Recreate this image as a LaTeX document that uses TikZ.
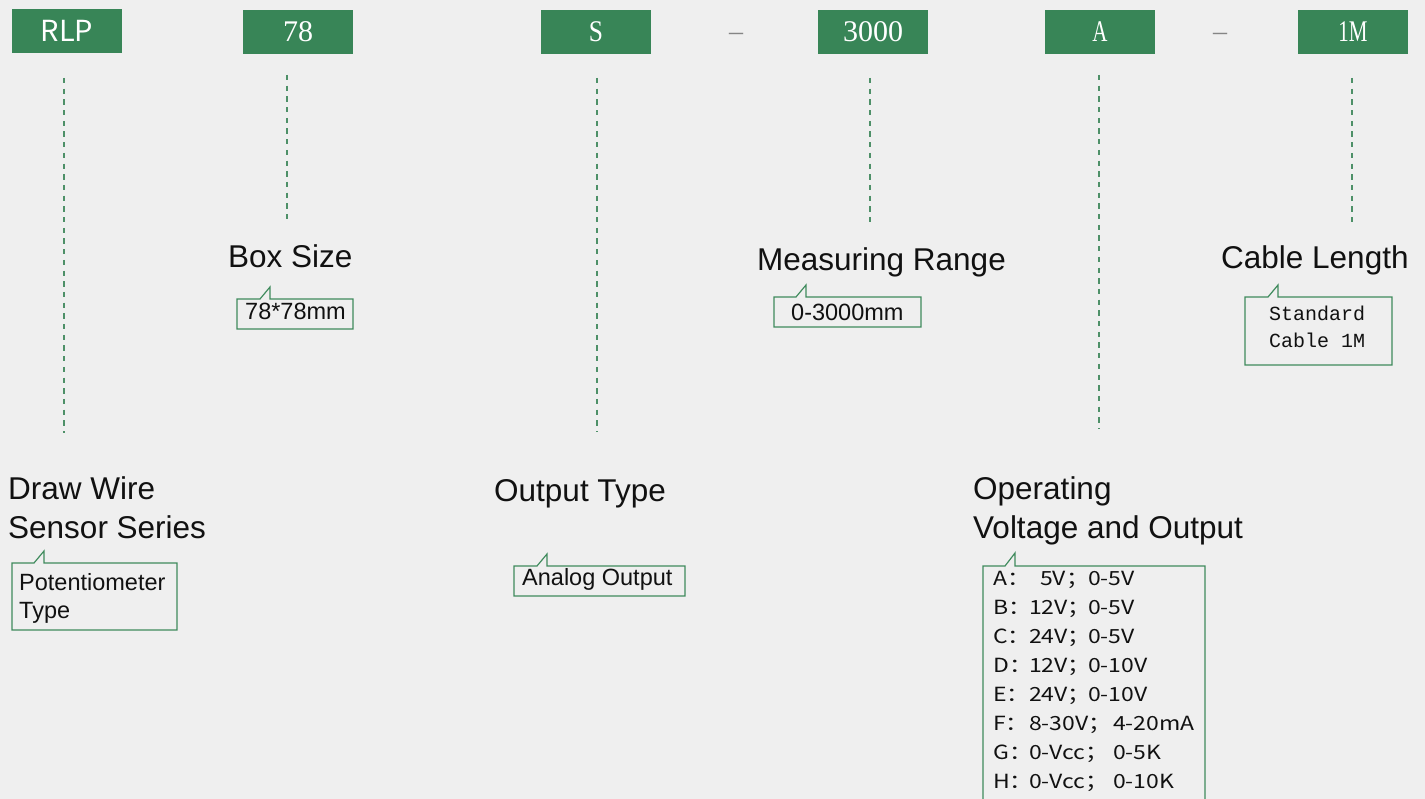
\documentclass[tikz,border=0pt]{standalone}
\usepackage{fontspec}
\usepackage{graphicx}
\setmainfont{Liberation Sans}
\newfontfamily\serifF{Liberation Serif}
\newfontfamily\monoF{Liberation Mono}
\newfontfamily\cjk{Noto Sans CJK SC}
\newfontfamily\cjkwide[FakeStretch=1.18]{Noto Sans CJK SC}
\definecolor{bg}{HTML}{EFEFEF}
\definecolor{boxgreen}{HTML}{388557}
\definecolor{linegreen}{HTML}{4E9068}
\definecolor{callgreen}{HTML}{3F8B5D}
\definecolor{dashgray}{HTML}{858585}
\definecolor{txt}{HTML}{111111}
\tikzset{
  codebox/.style={fill=boxgreen, text=white, minimum width=110pt, minimum height=44pt, inner sep=0pt},
  dashline/.style={draw=linegreen, line width=1.3pt, dash pattern=on 5.3pt off 5.4pt},
  callout/.style={draw=callgreen, line width=1.2pt},
  title/.style={anchor=base west, inner sep=0pt, text=txt, font=\fontsize{31.5}{39}\selectfont, align=left},
  calltext/.style={anchor=base west, inner sep=0pt, text=txt, font=\fontsize{23.5}{28}\selectfont, align=left},
  listtext/.style={anchor=base west, inner sep=0pt, text=txt, font=\cjkwide\fontsize{19.5}{29}\selectfont},
  sep/.style={text=dashgray, inner sep=0pt, font=\serifF\fontsize{28}{28}\selectfont}
}
\newcommand\mycallout[5]{\draw[callout] (#1,#2) -- ({#5-10},#2) -- (#5,{#2-12}) -- (#5,#2) -- (#3,#2) -- (#3,#4) -- (#1,#4) -- cycle;}
\begin{document}
\begin{tikzpicture}[x=1pt,y=-1pt]
\fill[bg] (0,0) rectangle (1425,799);
\useasboundingbox (0,0) rectangle (1425,799);

% top code boxes
\node[codebox, font=\cjk\fontsize{29}{29}\selectfont] (rlp) at (67,31) {RLP};
\node[codebox, font=\serifF\fontsize{30}{30}\selectfont] (size) at (298,32) {78};
\node[codebox, font=\serifF\fontsize{30}{30}\selectfont] (out) at (596,32) {\scalebox{0.85}[1]{S}};
\node[codebox, font=\serifF\fontsize{30}{30}\selectfont] (range) at (873,32) {3000};
\node[codebox, font=\serifF\fontsize{30}{30}\selectfont] (volt) at (1100,32) {\scalebox{0.7}[1]{A}};
\node[codebox, font=\serifF\fontsize{30}{30}\selectfont] (cable) at (1353,32) {\scalebox{0.7}[1]{1M}};
\node[sep] (d1) at (736,37) {–};
\node[sep] (d2) at (1220,37) {–};

% dashed leaders
\coordinate (rlpA) at (64,78);   \coordinate (rlpB) at (64,433);
\coordinate (sizeA) at (287,75); \coordinate (sizeB) at (287,221);
\coordinate (outA) at (597,78);  \coordinate (outB) at (597,432);
\coordinate (rangeA) at (870,78); \coordinate (rangeB) at (870,222);
\coordinate (voltA) at (1099,75); \coordinate (voltB) at (1099,429);
\coordinate (cableA) at (1352,78); \coordinate (cableB) at (1352,222);
\draw[dashline] (rlpA) -- (rlpB);
\draw[dashline] (sizeA) -- (sizeB);
\draw[dashline] (outA) -- (outB);
\draw[dashline] (rangeA) -- (rangeB);
\draw[dashline] (voltA) -- (voltB);
\draw[dashline] (cableA) -- (cableB);

% titles (multi-line: base is last line)
\node[title] (tsize) at (228,268) {Box Size};
\node[title] (trange) at (757,271) {Measuring Range};
\node[title] (tcable) at (1221,269) {Cable Length};
\node[title] (trlp) at (8,538) {Draw Wire\\Sensor Series};
\node[title] (tout) at (494,501) {Output Type};
\node[title] (tvolt) at (973,538) {Operating\\Voltage and Output};

% callouts
\mycallout{237}{299}{353}{329}{270}
\node[calltext] (csize) at (245,320) {78*78mm};
\mycallout{774}{297}{921}{327}{806}
\node[calltext] (crange) at (791,321) {0-3000mm};
\mycallout{1245}{297}{1392}{365}{1278}
\node[anchor=base west, inner sep=0pt, text=txt, font=\monoF\fontsize{20}{27.5}\selectfont, align=left] (ccable) at (1269,348) {Standard\\Cable 1M};
\mycallout{12}{563}{177}{630}{44}
\node[calltext] (crlp) at (19,618) {Potentiometer\\Type};
\mycallout{514}{566}{685}{596}{547}
\node[calltext] (cout) at (522,585) {Analog Output};
\draw[callout] (983,805) -- (983,566) -- (1005,566) -- (1015,553) -- (1015,566) -- (1205,566) -- (1205,805);

% voltage list
\node[listtext] (la) at (993,585) {\makebox[47pt][l]{A：}\makebox[48pt][l]{5V；}0-5V};
\node[listtext] (lb) at (993,614) {\makebox[36pt][l]{B：}\makebox[59pt][l]{12V；}0-5V};
\node[listtext] (lc) at (993,643) {\makebox[36pt][l]{C：}\makebox[59pt][l]{24V；}0-5V};
\node[listtext] (ld) at (993,672) {\makebox[36pt][l]{D：}\makebox[59pt][l]{12V；}0-10V};
\node[listtext] (le) at (993,701) {\makebox[36pt][l]{E：}\makebox[59pt][l]{24V；}0-10V};
\node[listtext] (lf) at (993,730) {\makebox[36pt][l]{F：}\makebox[84pt][l]{8-30V；}4-20mA};
\node[listtext] (lg) at (993,759) {\makebox[36pt][l]{G：}\makebox[84pt][l]{0-Vcc；}0-5K};
\node[listtext] (lh) at (993,788) {\makebox[36pt][l]{H：}\makebox[84pt][l]{0-Vcc；}0-10K};
\end{tikzpicture}
\end{document}
